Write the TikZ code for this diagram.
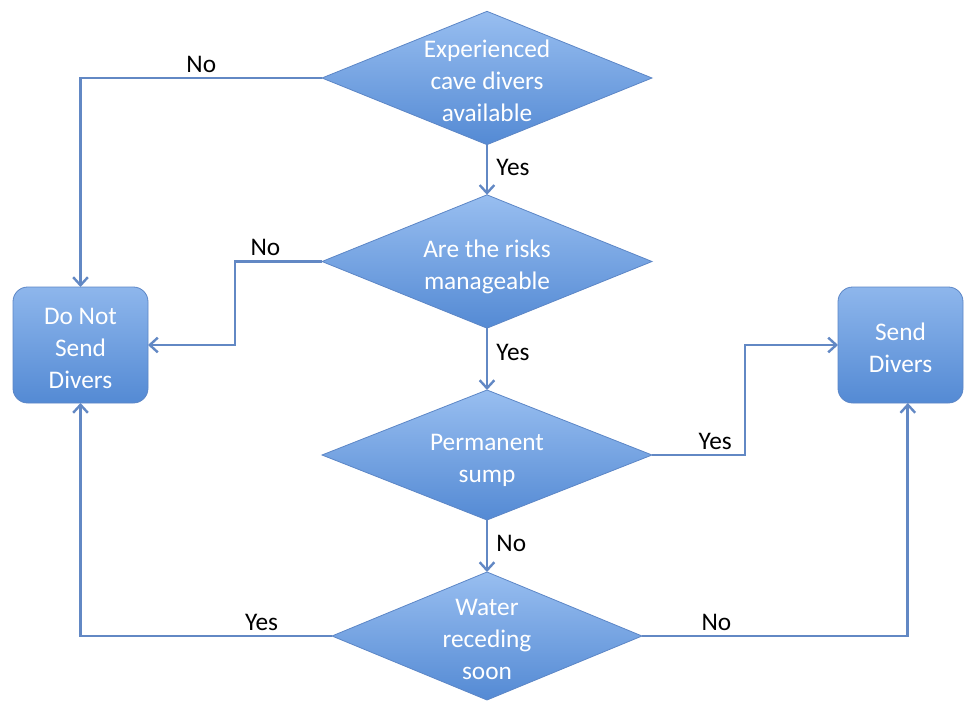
\documentclass[tikz,border=0pt]{standalone}
\usepackage{fontspec}
\setmainfont{Carlito}
\usetikzlibrary{shapes.geometric,arrows.meta}
\definecolor{lineblue}{RGB}{98,136,196}
\definecolor{shapetop}{RGB}{152,190,240}
\definecolor{shapebot}{RGB}{84,138,212}
\definecolor{shapeedge}{RGB}{92,134,198}
\newcommand\dtxt[1]{\makebox[0pt]{\smash{\raisebox{-0.43em}{\begin{tabular}[c]{@{}c@{}}#1\end{tabular}}}}}
\begin{document}
\begin{tikzpicture}[x=0.75pt,y=-0.75pt,
  txt/.style={font=\fontsize{19}{24}\selectfont},
  dia/.style={diamond, inner sep=0pt, outer sep=0pt, draw=shapeedge, line width=0.6pt,
    top color=shapetop, bottom color=shapebot, text=white, txt},
  box/.style={rectangle, rounded corners=11pt, inner sep=0pt, outer sep=0pt, draw=shapeedge,
    line width=0.6pt, top color=shapetop!85!shapebot, bottom color=shapebot, text=white, txt},
  arr/.style={draw=lineblue, line width=2.2pt, -{Straight Barb[length=6pt,width=11pt,line width=1.8pt]}},
  lbl/.style={txt, text=black, inner sep=2pt}
]
\useasboundingbox (0,0) rectangle (964,700);

\node[dia, minimum width=247.5pt, minimum height=100pt] (d1) at (487,78) {\dtxt{Experienced\\cave divers\\available}};
\node[dia, minimum width=247.5pt, minimum height=100pt] (d2) at (487,261.5) {\dtxt{Are the risks\\manageable}};
\node[dia, minimum width=247.5pt, minimum height=97.5pt] (d3) at (487,455) {\dtxt{Permanent\\sump}};
\node[dia, minimum width=232.5pt, minimum height=96pt] (d4) at (487,636) {\dtxt{Water\\receding\\soon}};

\node[box, minimum width=101.25pt, minimum height=87pt] (a) at (80.5,345) {\dtxt{Do Not\\Send\\Divers}};
\node[box, minimum width=93.75pt, minimum height=87pt] (b) at (900.5,345) {\dtxt{Send\\Divers}};

\coordinate (c2) at (235,261.5);
\coordinate (c3) at (745,455);

\draw[arr] (d1.south) -- node[lbl, right, pos=0.45, xshift=4pt] {Yes} (d2.north);
\draw[arr] (d2.south) -- node[lbl, right, pos=0.4, xshift=4pt] {Yes} (d3.north);
\draw[arr] (d3.south) -- node[lbl, right, pos=0.45, xshift=4pt] {No} (d4.north);

\draw[arr] (d1.west) -| node[lbl, above, pos=0.25, yshift=1pt] {No} (a.north);
\draw[arr] (d2.west) -- node[lbl, above, pos=0.65, yshift=1pt] {No} (c2) |- (a.east);
\draw[arr] (d3.east) -- node[lbl, above, pos=0.68, yshift=1pt] {Yes} (c3) |- (b.west);
\draw[arr] (d4.west) -| node[lbl, above, pos=0.14, yshift=1pt] {Yes} (a.south);
\draw[arr] (d4.east) -| node[lbl, above, pos=0.14, yshift=1pt] {No} ([xshift=5.5pt]b.south);
\end{tikzpicture}
\end{document}
